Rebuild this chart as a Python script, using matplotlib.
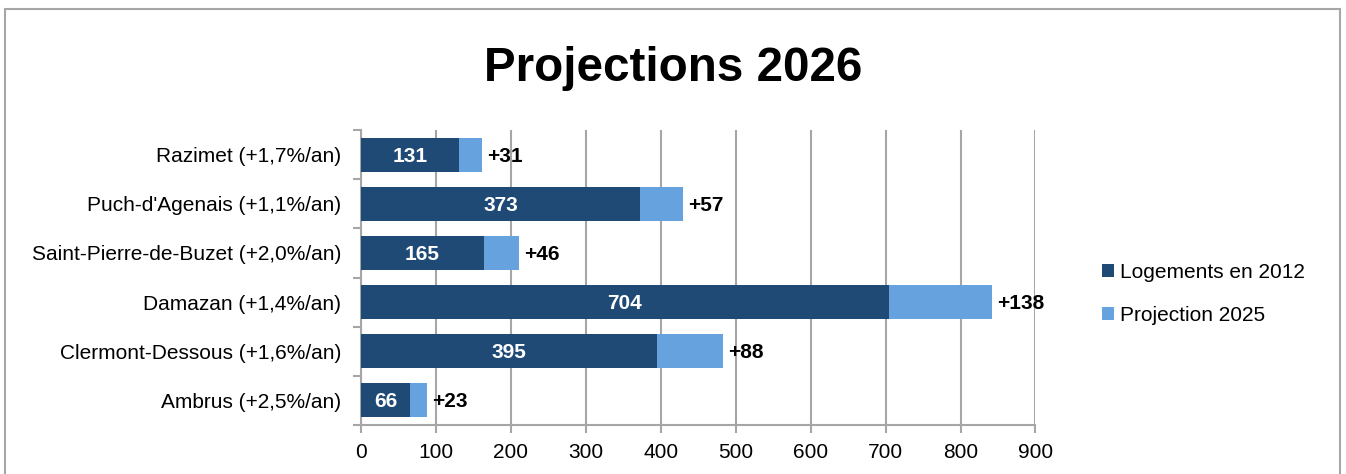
import matplotlib.pyplot as plt
from matplotlib.patches import Rectangle

plt.rcParams['font.family'] = ['Liberation Sans', 'DejaVu Sans']

# data (top to bottom)
communes = ["Razimet (+1,7%/an)", "Puch-d'Agenais (+1,1%/an)", "Saint-Pierre-de-Buzet (+2,0%/an)",
            "Damazan (+1,4%/an)", "Clermont-Dessous (+1,6%/an)", "Ambrus (+2,5%/an)"]
logements_2012 = [131, 373, 165, 704, 395, 66]
hausse_2025 = [31, 57, 46, 138, 88, 23]
xticks = [0, 100, 200, 300, 400, 500, 600, 700, 800, 900]

DARK = '#1F4A75'
LIGHT = '#65A2DE'
GRID = '#A6A6A6'
FS = 15

fig = plt.figure(figsize=(13.46, 4.74), dpi=100)
ax = fig.add_axes([0.268, 0.1034, 0.5013, 0.6223])

ypos = list(range(len(communes)))
ax.barh(ypos, logements_2012, height=0.69, color=DARK, label='Logements en 2012', zorder=3)
ax.barh(ypos, hausse_2025, left=logements_2012, height=0.69, color=LIGHT,
        label='Projection 2025', zorder=3)

for y, base, plus in zip(ypos, logements_2012, hausse_2025):
    ax.text(base / 2, y + 0.03, str(base), ha='center', va='center', color='white',
            fontsize=FS, fontweight='bold', zorder=4)
    ax.annotate('+%d' % plus, (base + plus, y + 0.03), xytext=(3.5, 0), textcoords='offset points',
                ha='left', va='center', fontsize=FS, fontweight='bold', zorder=4)

ax.set_ylim(len(communes) - 0.5, -0.5)
ax.set_xlim(0, 900)
ax.set_xticks(xticks)
ax.set_yticks(ypos)
ax.set_yticklabels(communes)
ax.set_yticks([y - 0.5 for y in range(len(communes) + 1)], minor=True)
ax.tick_params(axis='y', which='major', length=0, pad=14, labelsize=FS)
ax.tick_params(axis='y', which='minor', length=6, color=GRID, width=1.5)
ax.tick_params(axis='x', length=6, color=GRID, width=1.5, labelsize=FS, pad=7)

ax.grid(axis='x', color=GRID, linewidth=1.5, zorder=0)
for side in ['top', 'right']:
    ax.spines[side].set_visible(False)
for side in ['left', 'bottom']:
    ax.spines[side].set_color(GRID)
    ax.spines[side].set_linewidth(1.5)

fig.text(0.5, 0.855, 'Projections 2026', ha='center', va='center',
         fontsize=34.3, fontweight='bold')

leg = fig.legend(loc='center left', bbox_to_anchor=(0.805, 0.38), frameon=False,
                 fontsize=FS, handlelength=0.55, handleheight=0.55, handletextpad=0.3,
                 labelspacing=1.15)

fig.patches.append(Rectangle((5 / 1346, -0.1), 1335 / 1346, 1.1 - 9 / 474,
                             transform=fig.transFigure, fill=False,
                             edgecolor=GRID, linewidth=1.5))

fig.savefig('out.png', dpi=100)
